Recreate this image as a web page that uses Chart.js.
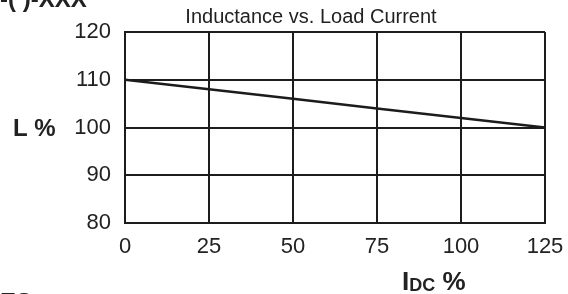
<!DOCTYPE html>
<html>
<head>
<meta charset="utf-8">
<script src="https://cdn.jsdelivr.net/npm/chart.js@4.4.1/dist/chart.umd.min.js"></script>
<style>
  html, body { margin: 0; padding: 0; background: #fff; }
  #wrap { width: 568px; height: 294px; position: relative; }
</style>
</head>
<body>
<div id="wrap"><canvas id="c" width="568" height="294"></canvas></div>
<script>
// Données
const loadCurrent = [0, 25, 50, 75, 100, 125];
const inductance = [110, 108, 106, 104, 102, 100];
const yTicks = [80, 90, 100, 110, 120];

const INK = "#1c1c1c";
const TEXT = "#222222";
const FONT = "'Liberation Sans', Arial, sans-serif";

// Textes hors du graphe : titre, titres d'axes, fragments coupés
const annotations = {
  id: "annotations",
  afterDraw(chart) {
    const ctx = chart.ctx;
    ctx.save();
    ctx.fillStyle = TEXT;
    ctx.textBaseline = "middle";

    ctx.font = "20px " + FONT;
    ctx.textAlign = "center";
    ctx.fillText("Inductance vs. Load Current", 311, 17);

    ctx.font = "bold 24px " + FONT;
    ctx.textAlign = "left";
    ctx.fillText("L %", 13, 129);

    // I avec indice DC
    let x = 402;
    ctx.font = "bold 26px " + FONT;
    ctx.fillText("I", x, 283);
    x += ctx.measureText("I").width;
    ctx.font = "bold 18px " + FONT;
    ctx.fillText("DC", x, 286);
    x += ctx.measureText("DC").width;
    ctx.font = "bold 26px " + FONT;
    ctx.fillText(" %", x, 283);

    ctx.font = "bold 24px " + FONT;
    ctx.textBaseline = "alphabetic";
    ctx.fillText("-( )-XXX", 0, 7);
    ctx.fillText("ES", 0, 310);
    ctx.restore();
  }
};

new Chart(document.getElementById("c"), {
  type: "line",
  data: {
    labels: loadCurrent,
    datasets: [{
      data: loadCurrent.map((v, i) => ({ x: v, y: inductance[i] })),
      borderColor: INK,
      borderWidth: 2.5,
      pointRadius: 0,
      tension: 0,
      fill: false
    }]
  },
  options: {
    responsive: false,
    animation: false,
    layout: { padding: { top: 32, right: 23, left: 0, bottom: 0 } },
    scales: {
      x: {
        type: "linear",
        min: 0,
        max: 125,
        afterBuildTicks: (s) => { s.ticks = loadCurrent.map((v) => ({ value: v })); },
        afterFit: (s) => { s.height = 71; s.paddingLeft = 0; s.paddingRight = 0; },
        grid: { color: INK, lineWidth: 2, drawTicks: false },
        border: { color: INK, width: 2 },
        ticks: { color: TEXT, font: { size: 22, family: FONT }, padding: 11, maxRotation: 0 }
      },
      y: {
        min: 80,
        max: 120,
        afterBuildTicks: (s) => { s.ticks = yTicks.map((v) => ({ value: v })); },
        afterFit: (s) => { s.width = 125; s.paddingTop = 0; s.paddingBottom = 0; },
        grid: { color: INK, lineWidth: 2, drawTicks: false },
        border: { color: INK, width: 2 },
        ticks: { color: TEXT, font: { size: 22, family: FONT }, padding: 14 }
      }
    },
    plugins: {
      legend: { display: false },
      tooltip: { enabled: false }
    }
  },
  plugins: [annotations]
});
</script>
</body>
</html>
